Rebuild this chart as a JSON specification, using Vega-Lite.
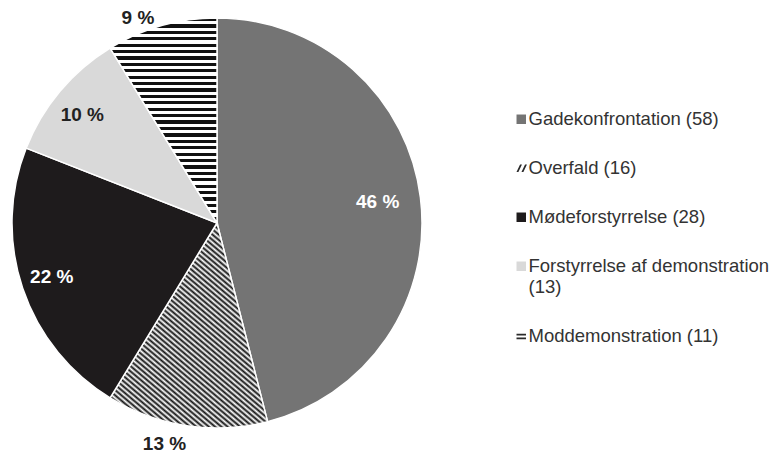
{
  "$schema": "https://vega.github.io/schema/vega-lite/v6.json",
  "width": 434,
  "height": 446,
  "padding": {"left": 0, "top": 0, "right": 341, "bottom": 8},
  "autosize": {"type": "none"},
  "background": "white",
  "config": {"view": {"stroke": null}, "font": "Liberation Sans"},
  "data": {
    "values": [
      {"category": "Gadekonfrontation (58)", "count": 58, "label": "46 %", "order": 1},
      {"category": "Overfald (16)", "count": 16, "label": "13 %", "order": 2},
      {"category": "Mødeforstyrrelse (28)", "count": 28, "label": "22 %", "order": 3},
      {"category": "Forstyrrelse af demonstration (13)", "count": 13, "label": "10 %", "order": 4},
      {"category": "Moddemonstration (11)", "count": 11, "label": "9 %", "order": 5}
    ]
  },
  "encoding": {
    "theta": {"field": "count", "type": "quantitative", "stack": true},
    "order": {"field": "order", "type": "quantitative"}
  },
  "layer": [
    {
      "mark": {"type": "arc", "outerRadius": 205, "stroke": "white", "strokeWidth": 1.5},
      "encoding": {
        "fill": {
          "condition": [
            {"test": "datum.order == 2", "value": {"gradient": "linear", "x1": 0, "y1": 1, "x2": 0.751, "y2": -0.161, "stops": [
                {"offset": 0, "color": "#111"}, {"offset": 0.0078, "color": "#fff"}, {"offset": 0.0156, "color": "#111"}, {"offset": 0.0234, "color": "#fff"},
                {"offset": 0.0313, "color": "#111"}, {"offset": 0.0391, "color": "#fff"}, {"offset": 0.0469, "color": "#111"}, {"offset": 0.0547, "color": "#fff"},
                {"offset": 0.0625, "color": "#111"}, {"offset": 0.0703, "color": "#fff"}, {"offset": 0.0781, "color": "#111"}, {"offset": 0.0859, "color": "#fff"},
                {"offset": 0.0938, "color": "#111"}, {"offset": 0.1016, "color": "#fff"}, {"offset": 0.1094, "color": "#111"}, {"offset": 0.1172, "color": "#fff"},
                {"offset": 0.125, "color": "#111"}, {"offset": 0.1328, "color": "#fff"}, {"offset": 0.1406, "color": "#111"}, {"offset": 0.1484, "color": "#fff"},
                {"offset": 0.1563, "color": "#111"}, {"offset": 0.1641, "color": "#fff"}, {"offset": 0.1719, "color": "#111"}, {"offset": 0.1797, "color": "#fff"},
                {"offset": 0.1875, "color": "#111"}, {"offset": 0.1953, "color": "#fff"}, {"offset": 0.2031, "color": "#111"}, {"offset": 0.2109, "color": "#fff"},
                {"offset": 0.2188, "color": "#111"}, {"offset": 0.2266, "color": "#fff"}, {"offset": 0.2344, "color": "#111"}, {"offset": 0.2422, "color": "#fff"},
                {"offset": 0.25, "color": "#111"}, {"offset": 0.2578, "color": "#fff"}, {"offset": 0.2656, "color": "#111"}, {"offset": 0.2734, "color": "#fff"},
                {"offset": 0.2813, "color": "#111"}, {"offset": 0.2891, "color": "#fff"}, {"offset": 0.2969, "color": "#111"}, {"offset": 0.3047, "color": "#fff"},
                {"offset": 0.3125, "color": "#111"}, {"offset": 0.3203, "color": "#fff"}, {"offset": 0.3281, "color": "#111"}, {"offset": 0.3359, "color": "#fff"},
                {"offset": 0.3438, "color": "#111"}, {"offset": 0.3516, "color": "#fff"}, {"offset": 0.3594, "color": "#111"}, {"offset": 0.3672, "color": "#fff"},
                {"offset": 0.375, "color": "#111"}, {"offset": 0.3828, "color": "#fff"}, {"offset": 0.3906, "color": "#111"}, {"offset": 0.3984, "color": "#fff"},
                {"offset": 0.4063, "color": "#111"}, {"offset": 0.4141, "color": "#fff"}, {"offset": 0.4219, "color": "#111"}, {"offset": 0.4297, "color": "#fff"},
                {"offset": 0.4375, "color": "#111"}, {"offset": 0.4453, "color": "#fff"}, {"offset": 0.4531, "color": "#111"}, {"offset": 0.4609, "color": "#fff"},
                {"offset": 0.4688, "color": "#111"}, {"offset": 0.4766, "color": "#fff"}, {"offset": 0.4844, "color": "#111"}, {"offset": 0.4922, "color": "#fff"},
                {"offset": 0.5, "color": "#111"}, {"offset": 0.5078, "color": "#fff"}, {"offset": 0.5156, "color": "#111"}, {"offset": 0.5234, "color": "#fff"},
                {"offset": 0.5313, "color": "#111"}, {"offset": 0.5391, "color": "#fff"}, {"offset": 0.5469, "color": "#111"}, {"offset": 0.5547, "color": "#fff"},
                {"offset": 0.5625, "color": "#111"}, {"offset": 0.5703, "color": "#fff"}, {"offset": 0.5781, "color": "#111"}, {"offset": 0.5859, "color": "#fff"},
                {"offset": 0.5938, "color": "#111"}, {"offset": 0.6016, "color": "#fff"}, {"offset": 0.6094, "color": "#111"}, {"offset": 0.6172, "color": "#fff"},
                {"offset": 0.625, "color": "#111"}, {"offset": 0.6328, "color": "#fff"}, {"offset": 0.6406, "color": "#111"}, {"offset": 0.6484, "color": "#fff"},
                {"offset": 0.6563, "color": "#111"}, {"offset": 0.6641, "color": "#fff"}, {"offset": 0.6719, "color": "#111"}, {"offset": 0.6797, "color": "#fff"},
                {"offset": 0.6875, "color": "#111"}, {"offset": 0.6953, "color": "#fff"}, {"offset": 0.7031, "color": "#111"}, {"offset": 0.7109, "color": "#fff"},
                {"offset": 0.7188, "color": "#111"}, {"offset": 0.7266, "color": "#fff"}, {"offset": 0.7344, "color": "#111"}, {"offset": 0.7422, "color": "#fff"},
                {"offset": 0.75, "color": "#111"}, {"offset": 0.7578, "color": "#fff"}, {"offset": 0.7656, "color": "#111"}, {"offset": 0.7734, "color": "#fff"},
                {"offset": 0.7813, "color": "#111"}, {"offset": 0.7891, "color": "#fff"}, {"offset": 0.7969, "color": "#111"}, {"offset": 0.8047, "color": "#fff"},
                {"offset": 0.8125, "color": "#111"}, {"offset": 0.8203, "color": "#fff"}, {"offset": 0.8281, "color": "#111"}, {"offset": 0.8359, "color": "#fff"},
                {"offset": 0.8438, "color": "#111"}, {"offset": 0.8516, "color": "#fff"}, {"offset": 0.8594, "color": "#111"}, {"offset": 0.8672, "color": "#fff"},
                {"offset": 0.875, "color": "#111"}, {"offset": 0.8828, "color": "#fff"}, {"offset": 0.8906, "color": "#111"}, {"offset": 0.8984, "color": "#fff"},
                {"offset": 0.9063, "color": "#111"}, {"offset": 0.9141, "color": "#fff"}, {"offset": 0.9219, "color": "#111"}, {"offset": 0.9297, "color": "#fff"},
                {"offset": 0.9375, "color": "#111"}, {"offset": 0.9453, "color": "#fff"}, {"offset": 0.9531, "color": "#111"}, {"offset": 0.9609, "color": "#fff"},
                {"offset": 0.9688, "color": "#111"}, {"offset": 0.9766, "color": "#fff"}, {"offset": 0.9844, "color": "#111"}, {"offset": 0.9922, "color": "#fff"},
                {"offset": 1, "color": "#111"}
              ]}},
            {"test": "datum.order == 5", "value": {"gradient": "linear", "x1": 0, "y1": 0, "x2": 0, "y2": 1, "stops": [
                {"offset": 0, "color": "#111"}, {"offset": 0.0156, "color": "#111"}, {"offset": 0.0156, "color": "#fff"}, {"offset": 0.0313, "color": "#fff"},
                {"offset": 0.0313, "color": "#111"}, {"offset": 0.0469, "color": "#111"}, {"offset": 0.0469, "color": "#fff"}, {"offset": 0.0625, "color": "#fff"},
                {"offset": 0.0625, "color": "#111"}, {"offset": 0.0781, "color": "#111"}, {"offset": 0.0781, "color": "#fff"}, {"offset": 0.0938, "color": "#fff"},
                {"offset": 0.0938, "color": "#111"}, {"offset": 0.1094, "color": "#111"}, {"offset": 0.1094, "color": "#fff"}, {"offset": 0.125, "color": "#fff"},
                {"offset": 0.125, "color": "#111"}, {"offset": 0.1406, "color": "#111"}, {"offset": 0.1406, "color": "#fff"}, {"offset": 0.1563, "color": "#fff"},
                {"offset": 0.1563, "color": "#111"}, {"offset": 0.1719, "color": "#111"}, {"offset": 0.1719, "color": "#fff"}, {"offset": 0.1875, "color": "#fff"},
                {"offset": 0.1875, "color": "#111"}, {"offset": 0.2031, "color": "#111"}, {"offset": 0.2031, "color": "#fff"}, {"offset": 0.2188, "color": "#fff"},
                {"offset": 0.2188, "color": "#111"}, {"offset": 0.2344, "color": "#111"}, {"offset": 0.2344, "color": "#fff"}, {"offset": 0.25, "color": "#fff"},
                {"offset": 0.25, "color": "#111"}, {"offset": 0.2656, "color": "#111"}, {"offset": 0.2656, "color": "#fff"}, {"offset": 0.2813, "color": "#fff"},
                {"offset": 0.2813, "color": "#111"}, {"offset": 0.2969, "color": "#111"}, {"offset": 0.2969, "color": "#fff"}, {"offset": 0.3125, "color": "#fff"},
                {"offset": 0.3125, "color": "#111"}, {"offset": 0.3281, "color": "#111"}, {"offset": 0.3281, "color": "#fff"}, {"offset": 0.3438, "color": "#fff"},
                {"offset": 0.3438, "color": "#111"}, {"offset": 0.3594, "color": "#111"}, {"offset": 0.3594, "color": "#fff"}, {"offset": 0.375, "color": "#fff"},
                {"offset": 0.375, "color": "#111"}, {"offset": 0.3906, "color": "#111"}, {"offset": 0.3906, "color": "#fff"}, {"offset": 0.4063, "color": "#fff"},
                {"offset": 0.4063, "color": "#111"}, {"offset": 0.4219, "color": "#111"}, {"offset": 0.4219, "color": "#fff"}, {"offset": 0.4375, "color": "#fff"},
                {"offset": 0.4375, "color": "#111"}, {"offset": 0.4531, "color": "#111"}, {"offset": 0.4531, "color": "#fff"}, {"offset": 0.4688, "color": "#fff"},
                {"offset": 0.4688, "color": "#111"}, {"offset": 0.4844, "color": "#111"}, {"offset": 0.4844, "color": "#fff"}, {"offset": 0.5, "color": "#fff"},
                {"offset": 0.5, "color": "#111"}, {"offset": 0.5156, "color": "#111"}, {"offset": 0.5156, "color": "#fff"}, {"offset": 0.5313, "color": "#fff"},
                {"offset": 0.5313, "color": "#111"}, {"offset": 0.5469, "color": "#111"}, {"offset": 0.5469, "color": "#fff"}, {"offset": 0.5625, "color": "#fff"},
                {"offset": 0.5625, "color": "#111"}, {"offset": 0.5781, "color": "#111"}, {"offset": 0.5781, "color": "#fff"}, {"offset": 0.5938, "color": "#fff"},
                {"offset": 0.5938, "color": "#111"}, {"offset": 0.6094, "color": "#111"}, {"offset": 0.6094, "color": "#fff"}, {"offset": 0.625, "color": "#fff"},
                {"offset": 0.625, "color": "#111"}, {"offset": 0.6406, "color": "#111"}, {"offset": 0.6406, "color": "#fff"}, {"offset": 0.6563, "color": "#fff"},
                {"offset": 0.6563, "color": "#111"}, {"offset": 0.6719, "color": "#111"}, {"offset": 0.6719, "color": "#fff"}, {"offset": 0.6875, "color": "#fff"},
                {"offset": 0.6875, "color": "#111"}, {"offset": 0.7031, "color": "#111"}, {"offset": 0.7031, "color": "#fff"}, {"offset": 0.7188, "color": "#fff"},
                {"offset": 0.7188, "color": "#111"}, {"offset": 0.7344, "color": "#111"}, {"offset": 0.7344, "color": "#fff"}, {"offset": 0.75, "color": "#fff"},
                {"offset": 0.75, "color": "#111"}, {"offset": 0.7656, "color": "#111"}, {"offset": 0.7656, "color": "#fff"}, {"offset": 0.7813, "color": "#fff"},
                {"offset": 0.7813, "color": "#111"}, {"offset": 0.7969, "color": "#111"}, {"offset": 0.7969, "color": "#fff"}, {"offset": 0.8125, "color": "#fff"},
                {"offset": 0.8125, "color": "#111"}, {"offset": 0.8281, "color": "#111"}, {"offset": 0.8281, "color": "#fff"}, {"offset": 0.8438, "color": "#fff"},
                {"offset": 0.8438, "color": "#111"}, {"offset": 0.8594, "color": "#111"}, {"offset": 0.8594, "color": "#fff"}, {"offset": 0.875, "color": "#fff"},
                {"offset": 0.875, "color": "#111"}, {"offset": 0.8906, "color": "#111"}, {"offset": 0.8906, "color": "#fff"}, {"offset": 0.9063, "color": "#fff"},
                {"offset": 0.9063, "color": "#111"}, {"offset": 0.9219, "color": "#111"}, {"offset": 0.9219, "color": "#fff"}, {"offset": 0.9375, "color": "#fff"},
                {"offset": 0.9375, "color": "#111"}, {"offset": 0.9531, "color": "#111"}, {"offset": 0.9531, "color": "#fff"}, {"offset": 0.9688, "color": "#fff"},
                {"offset": 0.9688, "color": "#111"}, {"offset": 0.9844, "color": "#111"}, {"offset": 0.9844, "color": "#fff"}, {"offset": 1, "color": "#fff"}
              ]}}
          ],
          "field": "category",
          "type": "nominal",
          "scale": {
            "domain": ["Gadekonfrontation (58)", "Overfald (16)", "Mødeforstyrrelse (28)", "Forstyrrelse af demonstration (13)", "Moddemonstration (11)"],
            "range": ["#747474", "#2a2a2a", "#1e1b1c", "#d9d9d9", "#2a2a2a"]
          },
          "legend": {
            "orient": "none",
            "legendX": 512,
            "legendY": 110,
            "title": null,
            "padding": 0,
            "symbolType": {"expr": "datum.value == 'Overfald (16)' ? 'M-1,0.8L-0.25,-0.8H0.15L-0.6,0.8Z M0.05,0.8L0.8,-0.8H1.2L0.45,0.8Z' : datum.value == 'Moddemonstration (11)' ? 'M-1,-0.55H1V-0.15H-1Z M-1,0.25H1V0.65H-1Z' : 'square'"},
            "symbolSize": 90,
            "symbolStrokeWidth": 0,
            "labelFont": "Liberation Sans",
            "labelFontSize": 18.5,
            "labelColor": "#333333",
            "labelOffset": -2,
            "labelLimit": 400,
            "labelLineHeight": 24,
            "rowPadding": 30,
            "labelExpr": "datum.label == 'Forstyrrelse af demonstration (13)' ? ['Forstyrrelse af demonstration', '(13)'] : datum.label"
          }
        }
      }
    },
    {
      "mark": {"type": "text", "radius": 168, "dx": -6, "dy": 0, "fontSize": 19, "fontWeight": "bold", "font": "Liberation Sans"},
      "encoding": {
        "text": {"condition": {"test": "datum.order == 1 || datum.order == 3 || datum.order == 4", "field": "label"}, "value": ""},
        "color": {"condition": {"test": "datum.order == 4", "value": "#222222"}, "value": "#ffffff"}
      }
    },
    {
      "mark": {"type": "text", "radius": 218, "dx": -20, "dy": 5, "fontSize": 19, "fontWeight": "bold", "font": "Liberation Sans", "color": "#222222"},
      "encoding": {
        "text": {"condition": {"test": "datum.order == 2 || datum.order == 5", "field": "label"}, "value": ""}
      }
    }
  ]
}
